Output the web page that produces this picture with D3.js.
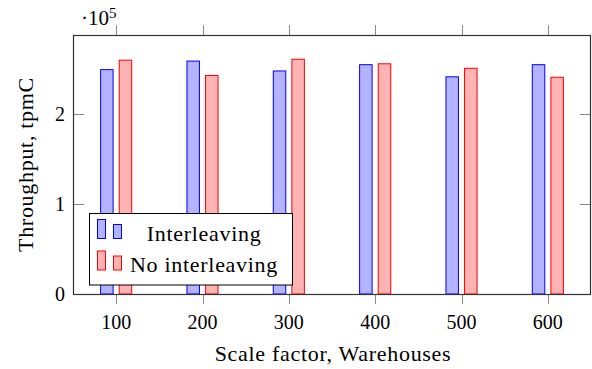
<!DOCTYPE html>
<html>
<head>
<meta charset="utf-8">
<script src="https://cdn.jsdelivr.net/npm/d3@7"></script>
</head>
<body style="margin:0;background:#fff">
<svg id="chart"></svg>
<script>
// scale factors (warehouses)
let warehouses = [100, 200, 300, 400, 500, 600];
// throughput in tpmC
let interleaving = [249500, 259000, 248000, 255000, 241500, 255000];
let noInterleaving = [260000, 243000, 261000, 256000, 251000, 241000];
let seriesNames = ["Interleaving", "No interleaving"];
let yTicks = [0, 1, 2];

let width = 592;
let height = 369;
let margin = { top: 35, right: 1, bottom: 75, left: 73 };
let serif = "'Liberation Serif', 'DejaVu Serif', serif";

let svg = d3.select("#chart")
  .attr("width", width)
  .attr("height", height)
  .attr("font-family", serif);

let x = d3.scaleLinear()
  .domain([50, 650])
  .range([margin.left, width - margin.right]);

let y = d3.scaleLinear()
  .domain([0, 2.88e5])
  .range([height - margin.bottom, margin.top]);

let barW = 12.5;
let offset = 9.3;

let series = [
  { name: seriesNames[0], values: interleaving, fill: "#b3b3ff", stroke: "#0000ff", dx: -offset },
  { name: seriesNames[1], values: noInterleaving, fill: "#ffb3b3", stroke: "#ff0000", dx: offset },
];

// bars
series.forEach((s) => {
  svg.append("g")
    .selectAll("rect")
    .data(s.values)
    .enter()
    .append("rect")
    .attr("x", (d, i) => x(warehouses[i]) + s.dx - barW / 2)
    .attr("y", (d) => y(d))
    .attr("width", barW)
    .attr("height", (d) => y(0) - y(d))
    .attr("fill", s.fill)
    .attr("stroke", s.stroke)
    .attr("stroke-width", 1);
});

let tickLen = 10;
let tickColor = "#8a8a8a";

// x ticks, outside on top and bottom
let xt = svg.append("g");
warehouses.forEach((w) => {
  let px = Math.round(x(w)) + 0.5;
  xt.append("line")
    .attr("x1", px).attr("x2", px)
    .attr("y1", y.range()[0]).attr("y2", y.range()[0] + tickLen)
    .attr("stroke", tickColor);
  xt.append("line")
    .attr("x1", px).attr("x2", px)
    .attr("y1", y.range()[1] - tickLen).attr("y2", y.range()[1])
    .attr("stroke", tickColor);
  xt.append("text")
    .attr("x", x(w))
    .attr("y", 329)
    .attr("text-anchor", "middle")
    .attr("font-family", serif)
    .attr("font-size", 20)
    .text(w);
});

// y ticks, inside on left and right
let yt = svg.append("g");
yTicks.forEach((t) => {
  let py = Math.round(y(t * 1e5)) + 0.5;
  if (t > 0) {
    yt.append("line")
      .attr("x1", x.range()[0]).attr("x2", x.range()[0] + tickLen + 1)
      .attr("y1", py).attr("y2", py)
      .attr("stroke", tickColor);
    yt.append("line")
      .attr("x1", x.range()[1] - tickLen - 1).attr("x2", x.range()[1])
      .attr("y1", py).attr("y2", py)
      .attr("stroke", tickColor);
  }
  yt.append("text")
    .attr("x", 65)
    .attr("y", y(t * 1e5) + 7)
    .attr("text-anchor", "end")
    .attr("font-family", serif)
    .attr("font-size", 20)
    .text(t);
});

// frame
svg.append("rect")
  .attr("x", x.range()[0] + 0.5)
  .attr("y", y.range()[1] + 0.5)
  .attr("width", x.range()[1] - x.range()[0] - 1)
  .attr("height", y.range()[0] - y.range()[1])
  .attr("fill", "none")
  .attr("stroke", "#333")
  .attr("stroke-width", 1.2);

// exponent label
let ex = svg.append("text")
  .attr("x", 81)
  .attr("y", 25)
  .attr("font-family", serif)
  .attr("font-size", 21);
ex.append("tspan").text("·10");
ex.append("tspan").attr("dy", -7).attr("font-size", 15).text("5");

// axis labels
svg.append("text")
  .attr("x", (x.range()[0] + x.range()[1]) / 2 + 1)
  .attr("y", 361)
  .attr("text-anchor", "middle")
  .attr("font-family", serif)
  .attr("font-size", 22)
  .attr("letter-spacing", 0.7)
  .text("Scale factor, Warehouses");

svg.append("text")
  .attr("transform", `translate(33,${(y.range()[0] + y.range()[1]) / 2}) rotate(-90)`)
  .attr("text-anchor", "middle")
  .attr("font-family", serif)
  .attr("font-size", 22)
  .attr("letter-spacing", 0.7)
  .text("Throughput, tpmC");

// legend
let lg = svg.append("g");
lg.append("rect")
  .attr("x", 89.5).attr("y", 213.5)
  .attr("width", 203).attr("height", 71.5)
  .attr("fill", "#fff")
  .attr("stroke", "#000");

series.forEach((s, i) => {
  let base = 238.5 + i * 31.5;
  lg.append("rect")
    .attr("x", 97.5).attr("y", base - 19)
    .attr("width", 8).attr("height", 19)
    .attr("fill", s.fill).attr("stroke", s.stroke);
  lg.append("rect")
    .attr("x", 113.5).attr("y", base - 14)
    .attr("width", 8).attr("height", 14)
    .attr("fill", s.fill).attr("stroke", s.stroke);
  lg.append("text")
    .attr("x", 204)
    .attr("y", base + 2)
    .attr("text-anchor", "middle")
    .attr("font-family", serif)
    .attr("font-size", 22)
    .attr("letter-spacing", 0.7)
    .text(s.name);
});
</script>
</body>
</html>
